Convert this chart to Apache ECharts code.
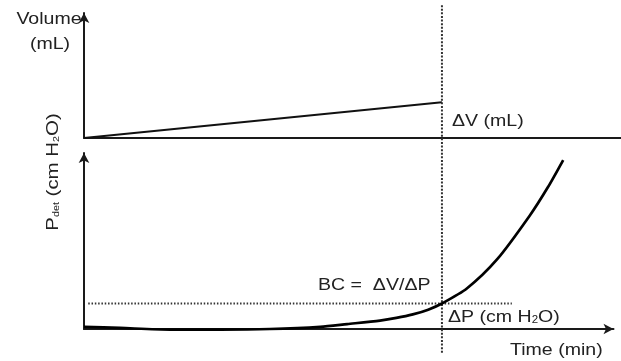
<!DOCTYPE html>
<html>
<head>
<meta charset="utf-8">
<script src="https://cdn.jsdelivr.net/npm/echarts@6/dist/echarts.min.js"></script>
<style>
html,body{margin:0;padding:0;background:#fff;}
#chart{width:621px;height:361px;}
</style>
</head>
<body>
<div id="chart"></div>
<script>
// ---- data (arbitrary units) ----
const timeP    = [0, 0.68, 1.62, 2.57, 3.51, 4.46, 4.97, 5.59, 5.90, 6.21, 6.50, 6.76, 7.23, 7.80, 8.42, 8.76, 9.05];
const pressure = [0.12, 0.06, -0.03, -0.03, 0, 0.12, 0.28, 0.48, 0.63, 0.83, 1.10, 1.45, 2.30, 3.95, 6.45, 8.05, 9.6];
const timeV    = [0, 6.76];
const volume   = [0, 2.86];
const markTime = 6.76;          // time of the vertical marker
const bcPressure = 1.45;        // pressure level of the horizontal marker
const bcTimeRange = [0.08, 8.08];
const markPRange = [-1.35, 18.44];

// ---- layout ----
const W = 621, H = 361;
const LEFT = 84;
const X_END_BOTTOM = 613.5;
const TIME_MAX = 10;
const TOP_TIME_MAX = TIME_MAX * (W - LEFT) / (X_END_BOTTOM - LEFT);
const AX = '#1a1a1a';
const TXT = '#222';
const FONT = '"Liberation Sans", Arial, sans-serif';
const arrow = {show: true, symbol: ['none', 'arrow'], symbolSize: [8, 10], lineStyle: {color: AX, width: 2}};

const chart = echarts.init(document.getElementById('chart'), null, {renderer: 'canvas'});

function label(text, x, y, align, extra) {
  return Object.assign({
    type: 'text', x: x, y: y, scaleX: 1.15, scaleY: 1,
    style: {text: text, fill: TXT, font: '17px ' + FONT, textAlign: align || 'left', textVerticalAlign: 'middle'}
  }, extra || {});
}

chart.setOption({
  animation: false,
  backgroundColor: '#fff',
  grid: [
    {left: LEFT, right: 0, top: 13, bottom: H - 138},
    {left: LEFT, right: W - X_END_BOTTOM, top: 153, bottom: H - 329}
  ],
  xAxis: [
    {gridIndex: 0, type: 'value', min: 0, max: TOP_TIME_MAX,
     axisLine: {show: true, onZero: true, lineStyle: {color: AX, width: 2}},
     axisTick: {show: false}, axisLabel: {show: false}, splitLine: {show: false}},
    {gridIndex: 1, type: 'value', min: 0, max: TIME_MAX,
     axisLine: arrow, axisTick: {show: false}, axisLabel: {show: false}, splitLine: {show: false}}
  ],
  yAxis: [
    {gridIndex: 0, type: 'value', min: 0, max: 10,
     axisLine: arrow, axisTick: {show: false}, axisLabel: {show: false}, splitLine: {show: false}},
    {gridIndex: 1, type: 'value', min: 0, max: 10,
     axisLine: arrow, axisTick: {show: false}, axisLabel: {show: false}, splitLine: {show: false}}
  ],
  series: [
    {type: 'line', xAxisIndex: 0, yAxisIndex: 0, showSymbol: false, clip: false,
     data: timeV.map((t, i) => [t, volume[i]]),
     lineStyle: {color: '#111', width: 2}},
    {type: 'line', xAxisIndex: 1, yAxisIndex: 1, showSymbol: false, clip: false,
     data: bcTimeRange.map(t => [t, bcPressure]),
     lineStyle: {color: '#333', width: 2, type: [1.5, 1.8]}},
    {type: 'line', xAxisIndex: 1, yAxisIndex: 1, showSymbol: false, clip: false,
     data: markPRange.map(p => [markTime, p]),
     lineStyle: {color: '#333', width: 2, type: [2, 1.6]}},
    {type: 'line', xAxisIndex: 1, yAxisIndex: 1, showSymbol: false, clip: false,
     smooth: 0.25,
     data: timeP.map((t, i) => [t, pressure[i]]),
     lineStyle: {color: '#000', width: 2.7}}
  ],
  graphic: [
    label('Volume', 49, 19, 'center'),
    label('(mL)', 50, 44, 'center'),
    label('\u0394V (mL)', 452, 121, 'left'),
    label('BC =  \u0394V/\u0394P', 318, 285, 'left'),
    {type: 'text', x: 448, y: 317, scaleX: 1.15,
     style: {text: '\u0394P (cm H{s|2}O)', fill: TXT, font: '17px ' + FONT, textAlign: 'left', textVerticalAlign: 'middle',
             rich: {s: {fontSize: 10, fill: TXT, fontFamily: FONT, verticalAlign: 'bottom', padding: [6, 0, 0, 0]}}}},
    label('Time (min)', 510, 350, 'left'),
    {type: 'text', x: 53, y: 172, rotation: Math.PI / 2, scaleX: 1.2,
     style: {text: 'P{s|det} (cm H{s|2}O)', fill: TXT, font: '17px ' + FONT, textAlign: 'center', textVerticalAlign: 'middle',
             rich: {s: {fontSize: 9, fill: TXT, fontFamily: FONT, padding: [8, 0, 0, 0]}}}}
  ]
});
</script>
</body>
</html>
